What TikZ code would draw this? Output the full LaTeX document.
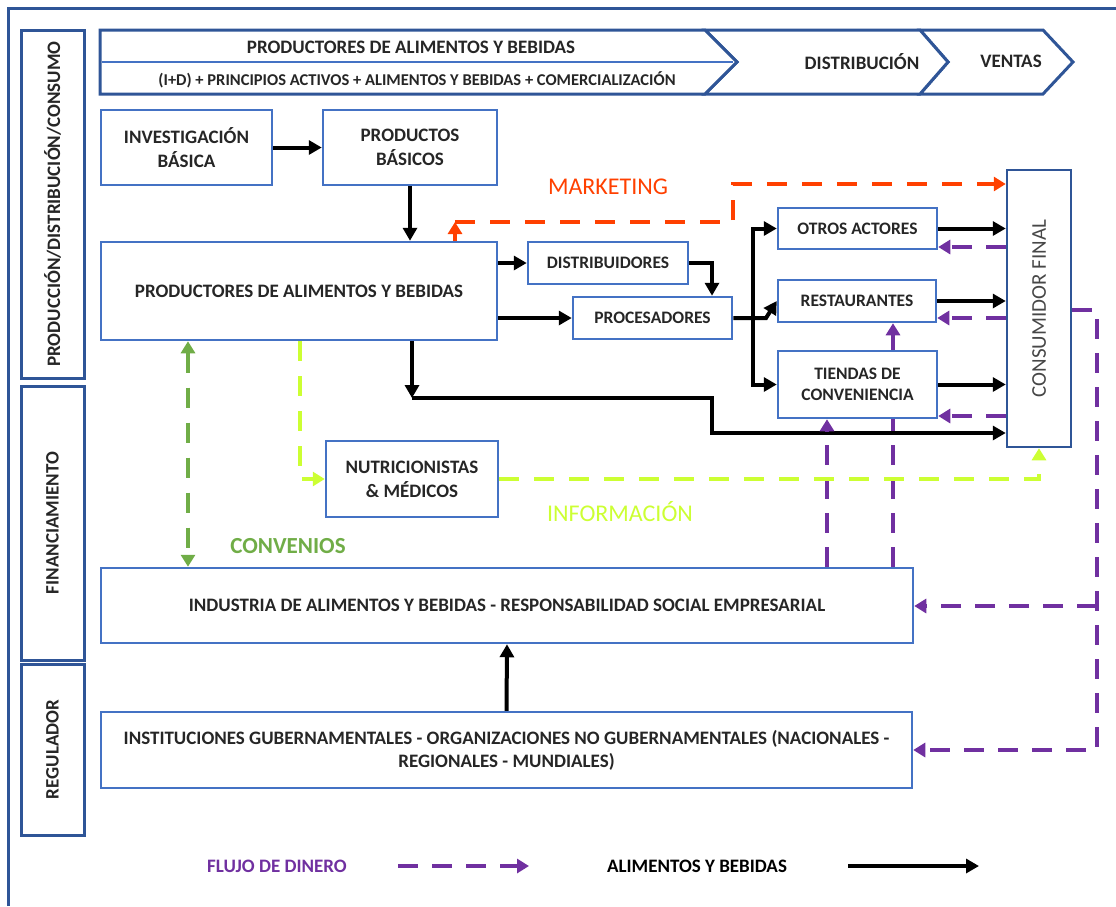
\documentclass[tikz,border=0pt]{standalone}
\usepackage{fontspec}
\setmainfont{Carlito}
\usetikzlibrary{arrows.meta,positioning}
\definecolor{boxblue}{RGB}{68,114,196}
\definecolor{frameblue}{RGB}{47,85,151}
\definecolor{moneypurple}{RGB}{112,48,160}
\definecolor{mktorange}{RGB}{255,64,0}
\definecolor{infolime}{RGB}{204,255,51}
\definecolor{convgreen}{RGB}{112,173,71}
\definecolor{inkgray}{RGB}{38,38,38}
\newcommand{\bigfont}{\fontsize{19}{24}\selectfont\bfseries}
\newcommand{\smallfont}{\fontsize{17.5}{21.5}\selectfont\bfseries}

\begin{document}
\begin{tikzpicture}[
  x=1pt,y=-1pt,
  box/.style={draw=boxblue,line width=2.5pt,fill=white,align=center,text=inkgray,inner sep=0pt},
  sidebox/.style={draw=frameblue,line width=3pt,fill=white,inner sep=0pt,text=inkgray,font=\bigfont},
  food/.style={-{Triangle[length=13pt,width=14pt]},line width=4pt,black},
  money/.style={-{Triangle[length=12pt,width=14pt]},line width=4pt,moneypurple,dash pattern=on 20pt off 14pt},
  moneyline/.style={line width=4pt,moneypurple,dash pattern=on 20pt off 14pt},
  mkt/.style={line width=4pt,mktorange,dash pattern=on 20pt off 15pt},
  info/.style={line width=4pt,infolime,dash pattern=on 20pt off 15pt},
  conv/.style={{Triangle[length=12pt,width=14pt]}-{Triangle[length=12pt,width=14pt]},line width=4pt,convgreen,dash pattern=on 20pt off 15pt},
  hdr/.style={draw=frameblue,line width=3pt,fill=white,line join=miter}
]
\useasboundingbox (0,0) rectangle (1116,906);

% outer frame
\draw[frameblue,line width=3pt] (8,906) -- (8,8) -- (1116,8);

% side column
\node[sidebox,minimum width=63,minimum height=348] (colprod) at (52.5,204) {\rotatebox{90}{PRODUCCIÓN/DISTRIBUCIÓN/CONSUMO}};
\node[sidebox,minimum width=63,minimum height=274] (colfin) at (52.5,523) {\rotatebox{90}{FINANCIAMIENTO}};
\node[sidebox,minimum width=63,minimum height=171] (colreg) at (52.5,749.5) {\rotatebox{90}{REGULADOR}};

% header chevrons
\draw[hdr] (920,30) -- (1043,30) -- (1073,62) -- (1043,94) -- (920,94) -- (948,62) -- cycle;
\draw[hdr] (705,30) -- (920,30) -- (948,62) -- (920,94) -- (705,94) -- (737,62) -- cycle;
\draw[hdr] (100,30) -- (705,30) -- (737,62) -- (705,94) -- (100,94) -- cycle;
\draw[boxblue,line width=2.5pt] (101.5,62) -- (733,62);
\node[font=\bigfont,text=inkgray] (hprod) at (411,47) {PRODUCTORES DE ALIMENTOS Y BEBIDAS};
\node[font=\fontsize{16.5}{20}\selectfont\bfseries,text=inkgray] (hcad) at (417,80) {(I+D) + PRINCIPIOS ACTIVOS + ALIMENTOS Y BEBIDAS + COMERCIALIZACIÓN};
\node[font=\bigfont,text=inkgray] (hdist) at (862,62) {DISTRIBUCIÓN};
\node[font=\bigfont,text=inkgray] (hvent) at (1011,61) {VENTAS};

% boxes
\node[box,font=\bigfont,minimum width=171,minimum height=75] (inv) at (186.5,147.5) {INVESTIGACIÓN\\BÁSICA};
\node[box,font=\bigfont,minimum width=174,minimum height=75] (prodb) at (410,147.5) {PRODUCTOS\\BÁSICOS};
\node[box,font=\bigfont,minimum width=396,minimum height=98] (pab) at (299,291) {PRODUCTORES DE ALIMENTOS Y BEBIDAS};
\node[box,font=\smallfont,minimum width=160,minimum height=42] (dist) at (608,263) {DISTRIBUIDORES};
\node[box,font=\smallfont,minimum width=159,minimum height=42] (proc) at (652.5,318) {PROCESADORES};
\node[box,font=\smallfont,minimum width=159,minimum height=41] (otros) at (857.5,228.5) {OTROS ACTORES};
\node[box,font=\smallfont,minimum width=158,minimum height=42] (rest) at (857,301) {RESTAURANTES};
\node[box,font=\smallfont,minimum width=159,minimum height=67] (tiendas) at (857.5,384.5) {TIENDAS DE\\CONVENIENCIA};
\node[box,draw=frameblue,minimum width=64,minimum height=277,font=\fontsize{21}{24}\selectfont,text=inkgray!85] (cons) at (1039,308.5) {\rotatebox{90}{CONSUMIDOR FINAL}};
\node[box,font=\bigfont,minimum width=172,minimum height=76] (nutri) at (412,479) {NUTRICIONISTAS\\\& MÉDICOS};
\node[box,font=\bigfont,minimum width=812,minimum height=75] (ind) at (507,605.5) {INDUSTRIA DE ALIMENTOS Y BEBIDAS - RESPONSABILIDAD SOCIAL EMPRESARIAL};
\node[box,font=\fontsize{19}{23}\selectfont\bfseries,minimum width=811,minimum height=76] (inst) at (506.5,750) {INSTITUCIONES GUBERNAMENTALES - ORGANIZACIONES NO GUBERNAMENTALES (NACIONALES -\\REGIONALES - MUNDIALES)};

% flow labels
\node[font=\fontsize{24}{26}\selectfont,text=mktorange] (lblmkt) at (608,187) {MARKETING};
\node[font=\fontsize{24}{26}\selectfont,text=infolime] (lblinfo) at (620,512) {INFORMACIÓN};
\node[font=\fontsize{23}{26}\selectfont\bfseries,text=convgreen] (lblconv) at (288,546) {CONVENIOS};

% bend points
\coordinate (dp) at (712,0);
\coordinate (bus) at (753,318);
\coordinate (rb) at (766,318);
\coordinate (lo) at (412,398);
\coordinate (lo2) at (712,433);
\coordinate (mk) at (455,222);
\coordinate (mk2) at (733,184);
\coordinate (in1) at (300,479);
\coordinate (cv) at (188,0);
\coordinate (xa) at (827,0);
\coordinate (xb) at (893,0);
\coordinate (xr) at (1097,0);
\coordinate (yo) at (0,247);
\coordinate (ys) at (0,318);
\coordinate (yt) at (0,416);
\coordinate (yr) at (0,310);
\coordinate (yi) at (0,606);
\coordinate (yg) at (0,750);

% alimentos y bebidas
\draw[food] (inv) -- (prodb);
\draw[food] (prodb.south) -- (prodb.south |- pab.north);
\draw[food] (pab.east |- dist) -- (dist.west);
\draw[food] (pab.east |- proc) -- (proc.west);
\draw[food] (dist.east) -| (dp |- proc.north);
\draw[food] (proc.east) -- (rb) -- (rest.west);
\draw[food] (bus) |- (otros.west);
\draw[food] (bus) |- (tiendas.west);
\draw[food] (otros.east) -- (otros.east -| cons.west);
\draw[food] (rest.east) -- (rest.east -| cons.west);
\draw[food] (tiendas.east) -- (tiendas.east -| cons.west);
\draw[food] (pab.south -| lo) -- (lo);
\draw[food] (lo) -| (lo2) -- (cons.west |- lo2);
\draw[food] (inst.north) -- (ind.south);

% flujo de dinero
\draw[money] (cons.west |- yo) -- (otros.east |- yo);
\draw[money] (cons.west |- ys) -- (rest.east |- ys);
\draw[money] (cons.west |- yt) -- (tiendas.east |- yt);
\draw[money] (ind.north -| xa) -- (tiendas.south -| xa);
\draw[moneyline] (ind.north -| xb) -- (tiendas.south -| xb);
\draw[money] (tiendas.north -| xb) -- (rest.south -| xb);
\draw[money] (cons.east |- yr) -| (xr |- yg) -- (inst.east |- yg);
\draw[money] (xr |- yi) -- (ind.east |- yi);

% marketing
\draw[mkt,-{Triangle[length=12pt,width=14pt]}] (pab.north -| mk) -- (mk);
\draw[mkt,-{Triangle[length=12pt,width=14pt]}] (mk) -| (mk2) -- (cons.west |- mk2);

% informacion
\draw[info,-{Triangle[length=12pt,width=14pt]}] (pab.south -| in1) |- (nutri.west);
\draw[info,-{Triangle[length=12pt,width=14pt]}] (nutri.east) -| (cons.south);

% convenios
\draw[conv] (pab.south -| cv) -- (ind.north -| cv);

% legend
\node[font=\fontsize{19}{21}\selectfont\bfseries,text=moneypurple] (legmoney) at (277,866) {FLUJO DE DINERO};
\coordinate (lm1) at (398,866);
\coordinate (lm2) at (529,866);
\draw[money] (lm1) -- (lm2);
\node[font=\fontsize{19}{21}\selectfont\bfseries,text=black] (legfood) at (697,866) {ALIMENTOS Y BEBIDAS};
\coordinate (lf1) at (848,866);
\coordinate (lf2) at (979,866);
\draw[food] (lf1) -- (lf2);
\end{tikzpicture}
\end{document}
